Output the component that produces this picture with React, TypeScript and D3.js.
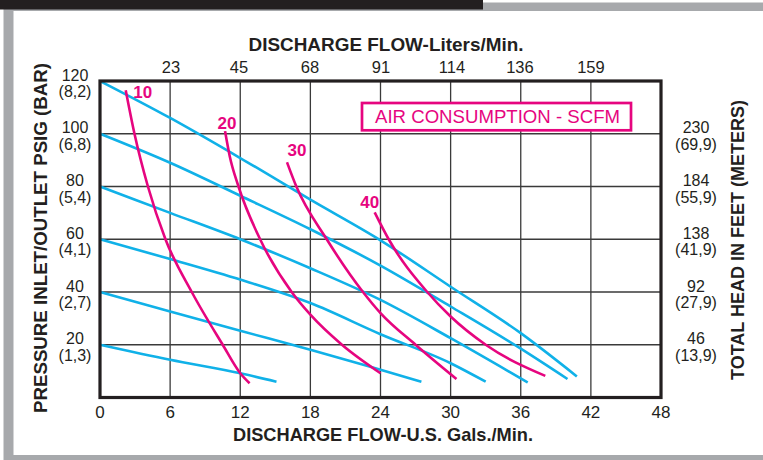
import React from 'react'
import * as d3 from 'd3'

// axis ticks and labels
const gpmTicks = [0, 6, 12, 18, 24, 30, 36, 42, 48]
const literTicks = [23, 45, 68, 91, 114, 136, 159]
const psiTicks = [20, 40, 60, 80, 100, 120]
const barLabels = ['(1,3)', '(2,7)', '(4,1)', '(5,4)', '(6,8)', '(8,2)']
const headTicks = [20, 40, 60, 80, 100]
const feetLabels = ['46', '92', '138', '184', '230']
const meterLabels = ['(13,9)', '(27,9)', '(41,9)', '(55,9)', '(69,9)']

// inlet pressure curves, [gpm, psi]
const psi120: [number, number][] = [[0, 120], [6, 106], [12, 90.8], [18, 75], [24, 59.6], [30, 42], [36, 24.4], [40.8, 8]]
const psi100: [number, number][] = [[0, 100], [6, 89], [12, 76.5], [18, 63.8], [24, 50], [30, 34.5], [36, 18.5], [40, 7]]
const psi80: [number, number][] = [[0, 80], [6, 70], [12, 60], [18, 49], [24, 37], [30, 22.5], [36.6, 5.7]]
const psi60: [number, number][] = [[0, 60], [6, 52.5], [12, 44.7], [18, 35.8], [24, 24], [30, 13], [33, 6]]
const psi40: [number, number][] = [[0, 40], [6, 32.6], [12, 25.3], [18, 18.1], [24, 10.5], [27.5, 6]]
const psi20: [number, number][] = [[0, 20], [6, 14.3], [12, 9.2], [15.1, 6]]

// air consumption curves (SCFM), [gpm, psi]
const scfm10: [number, number][] = [[2.2, 116.5], [2.95, 100], [4.1, 80], [5.6, 60], [7.85, 40], [10.5, 20], [12.0, 9.2], [12.8, 5.4]]
const scfm20: [number, number][] = [[10.7, 101], [11.1, 91.5], [11.85, 80], [13.7, 60], [16.4, 40], [18, 31.4], [20.7, 20], [24, 9.2]]
const scfm30: [number, number][] = [[16.0, 89.2], [16.8, 80], [19.4, 60], [22.5, 40], [24, 32], [27, 20], [30.5, 7]]
const scfm40: [number, number][] = [[23.5, 70.2], [24.7, 60], [28, 40], [30, 30.7], [33, 20], [38.1, 8.2]]

const pressureCurves = [psi120, psi100, psi80, psi60, psi40, psi20]
const airCurves = [scfm10, scfm20, scfm30, scfm40]
const airNames = ['10', '20', '30', '40']
// label offset from each curve start, px
const airLabelOffset = [[17, 8], [2, -2], [10, -6], [-5, -4]]

const BLUE = '#10b1e8'
const PINK = '#e6057f'
const INK = '#231f20'
const FONT = '"Liberation Sans", Arial, Helvetica, sans-serif'

const App = () => {
  const ref = React.useRef<SVGSVGElement | null>(null)

  React.useEffect(() => {
    const width = 763
    const height = 460
    const svg = d3.select(ref.current)
    svg.selectAll('*').remove()

    // frame
    svg.append('rect').attr('x', 3.5).attr('y', 2.5).attr('width', 800).attr('height', height - 2.5).attr('fill', '#a7a9ac')
    svg.append('rect').attr('x', 13.5).attr('y', 11).attr('width', 800).attr('height', 444).attr('fill', '#fff')
    svg.append('rect').attr('x', 0).attr('y', 0).attr('width', 483).attr('height', 9.5).attr('fill', INK)

    const x = d3.scaleLinear().domain([0, 48]).range([100, 661])
    const xTop = d3.scaleLinear().domain([0, 48 * 3.785]).range([100, 661])
    const y = d3.scaleLinear().domain([0, 120]).range([397.5, 81])

    // grid
    const grid = svg.append('g').attr('stroke', '#3a3a3a').attr('stroke-width', 1.3)
    grid.selectAll('.gx').data(gpmTicks.slice(1, -1)).enter().append('line')
      .attr('x1', d => x(d)).attr('x2', d => x(d)).attr('y1', y(120)).attr('y2', y(0))
    grid.selectAll('.gy').data(psiTicks.slice(0, -1)).enter().append('line')
      .attr('x1', x(0)).attr('x2', x(48)).attr('y1', d => y(d)).attr('y2', d => y(d))

    // legend box (white fill hides grid)
    svg.append('rect').attr('x', 362).attr('y', 103).attr('width', 269).attr('height', 27.3)
      .attr('fill', '#fff').attr('stroke', PINK).attr('stroke-width', 2.7)
    svg.append('text').attr('x', 497.5).attr('y', 123.3).attr('text-anchor', 'middle')
      .attr('font-family', FONT).attr('font-size', 18).attr('fill', PINK)
      .attr('textLength', 245).attr('lengthAdjust', 'spacingAndGlyphs')
      .text('AIR CONSUMPTION - SCFM')

    const line = d3.line<[number, number]>().x(d => x(d[0])).y(d => y(d[1])).curve(d3.curveMonotoneX)

    svg.append('g').selectAll('path').data(pressureCurves).enter().append('path')
      .attr('d', d => line(d)).attr('fill', 'none').attr('stroke', BLUE).attr('stroke-width', 2.6)

    svg.append('g').selectAll('path').data(airCurves).enter().append('path')
      .attr('d', d => line(d)).attr('fill', 'none').attr('stroke', PINK).attr('stroke-width', 2.6)

    svg.append('g').selectAll('text').data(airCurves).enter().append('text')
      .attr('x', (d, i) => x(d[0][0]) + airLabelOffset[i][0])
      .attr('y', (d, i) => y(d[0][1]) + airLabelOffset[i][1])
      .attr('text-anchor', 'middle').attr('font-family', FONT).attr('font-weight', 'bold')
      .attr('font-size', 17).attr('fill', PINK)
      .text((d, i) => airNames[i])

    // plot border
    svg.append('rect').attr('x', x(0)).attr('y', y(120)).attr('width', x(48) - x(0)).attr('height', y(0) - y(120))
      .attr('fill', 'none').attr('stroke', INK).attr('stroke-width', 3.2)

    const txt = (g: d3.Selection<SVGGElement, unknown, null, undefined>) =>
      g.attr('font-family', FONT).attr('fill', INK).attr('text-anchor', 'middle')

    // bottom axis
    const bottom = svg.append('g').call(txt).attr('font-size', 17)
    bottom.selectAll('text').data(gpmTicks).enter().append('text')
      .attr('x', d => x(d)).attr('y', 418).text(d => d)

    // top axis
    const top = svg.append('g').call(txt).attr('font-size', 16.5)
    top.selectAll('text').data(literTicks).enter().append('text')
      .attr('x', d => xTop(d)).attr('y', 73).text(d => d)

    // left axis (psi + bar)
    const left = svg.append('g').call(txt).attr('font-size', 16)
    left.selectAll('.a').data(psiTicks).enter().append('text')
      .attr('x', 75).attr('y', d => y(d) - 0.5).text(d => d)
    left.selectAll('.b').data(psiTicks).enter().append('text')
      .attr('x', 75).attr('y', d => y(d) + 16).text((d, i) => barLabels[i])

    // right axis (feet + meters)
    const right = svg.append('g').call(txt).attr('font-size', 16)
    right.selectAll('.a').data(headTicks).enter().append('text')
      .attr('x', 696).attr('y', d => y(d) - 0.5).text((d, i) => feetLabels[i])
    right.selectAll('.b').data(headTicks).enter().append('text')
      .attr('x', 696).attr('y', d => y(d) + 16).text((d, i) => meterLabels[i])

    // titles
    const title = svg.append('g').call(txt).attr('font-size', 18.5).attr('font-weight', 'bold')
    title.append('text').attr('x', 386).attr('y', 50.5).attr('textLength', 275).attr('lengthAdjust', 'spacingAndGlyphs')
      .text('DISCHARGE FLOW-Liters/Min.')
    title.append('text').attr('x', 383).attr('y', 441).attr('textLength', 300).attr('lengthAdjust', 'spacingAndGlyphs')
      .text('DISCHARGE FLOW-U.S. Gals./Min.')
    title.append('text').attr('transform', 'translate(47,238) rotate(-90)').attr('textLength', 350).attr('lengthAdjust', 'spacingAndGlyphs')
      .text('PRESSURE INLET/OUTLET PSIG (BAR)')
    title.append('text').attr('transform', 'translate(744,240) rotate(-90)').attr('textLength', 280).attr('lengthAdjust', 'spacingAndGlyphs')
      .text('TOTAL HEAD IN FEET (METERS)')
  }, [])

  return (
    <svg ref={ref} width={763} height={460}
      style={{ position: 'absolute', left: 0, top: 0, background: '#fff' }} />
  )
}

export default App
